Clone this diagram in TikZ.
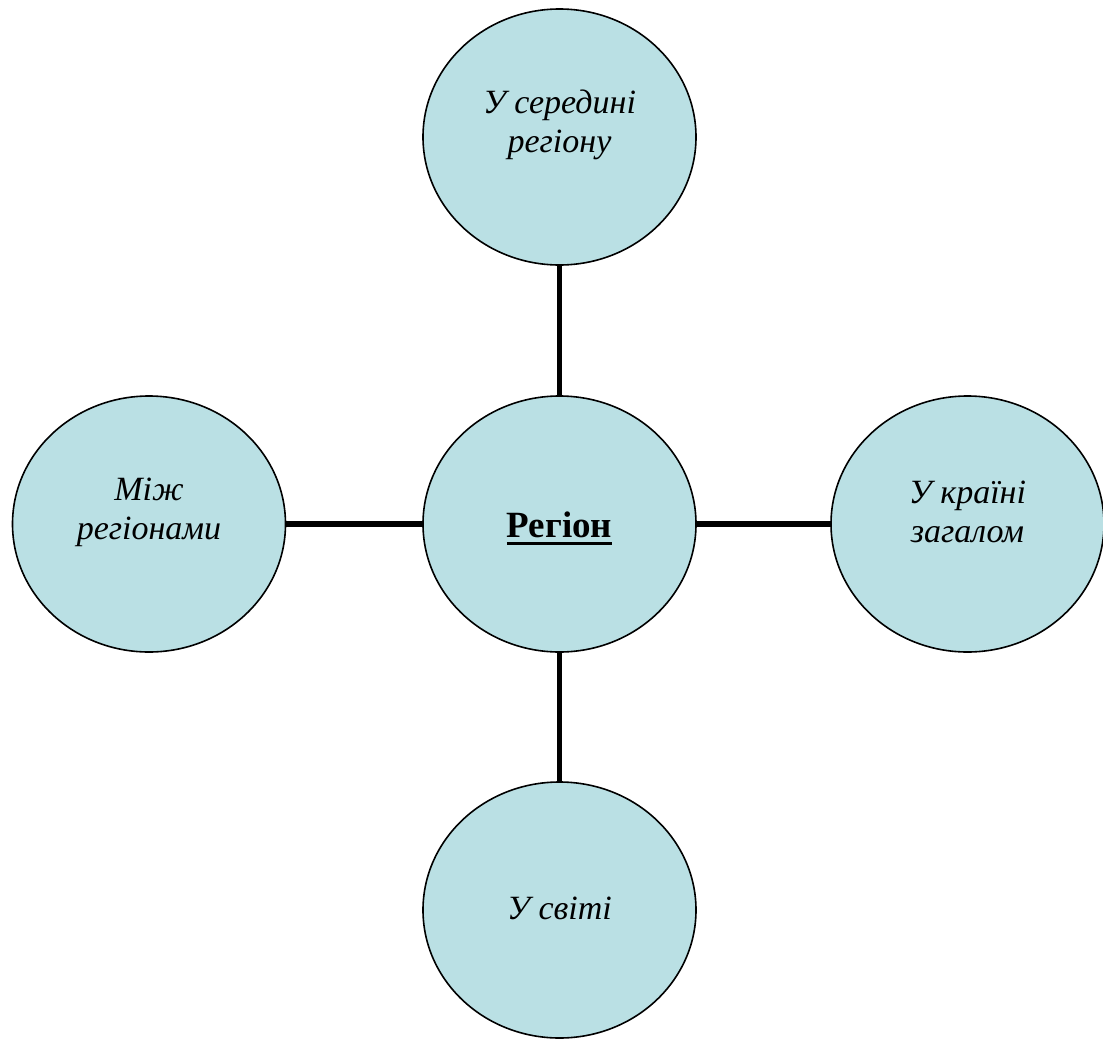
\documentclass[tikz,border=0pt]{standalone}
\usepackage{fontspec}
\setmainfont{Liberation Serif}
\usetikzlibrary{shapes.geometric}
\definecolor{bubblefill}{RGB}{186,224,228}
% bold word with a thick underline drawn beneath it
\newcommand\ulword[1]{\setbox0=\hbox{#1}\leavevmode\rlap{\rule[-8pt]{\wd0}{3pt}}\box0}
\begin{document}
\begin{tikzpicture}[x=1pt,y=-1pt,
  bubble/.style={ellipse, draw=black, line width=1.6pt, fill=bubblefill,
                 minimum width=273pt, minimum height=256pt, inner sep=0pt},
  caption/.style={font=\fontsize{34}{39}\selectfont\itshape, align=center, inner sep=0pt},
  hubcaption/.style={font=\fontsize{37}{42}\selectfont\bfseries, inner sep=0pt},
  link/.style={line width=5.5pt}]
\useasboundingbox (0,0) rectangle (1103,1039);

% circles
\node[bubble] (hub)    at (559.5,524) {};
\node[bubble] (inner)  at (559.5,137) {};
\node[bubble] (between) at (149,524) {};
\node[bubble] (country) at (967.5,524) {};
\node[bubble] (world)  at (559.5,910) {};

% spokes from the hub
\draw[link] (hub) -- (inner);
\draw[link] (hub) -- (between);
\draw[link] (hub) -- (country);
\draw[link] (hub) -- (world);

% captions
\node[hubcaption] (hubtext) at (559.5,528.5) {\ulword{Регіон}};
\node[caption] (innertext) at (559.5,125) {У середині\\регіону};
\node[caption] (betweentext) at (149,512) {Між\\регіонами};
\node[caption] (countrytext) at (967.5,512) {У країні\\загалом};
\node[caption] (worldtext) at (559.5,908) {У світі};
\end{tikzpicture}
\end{document}
